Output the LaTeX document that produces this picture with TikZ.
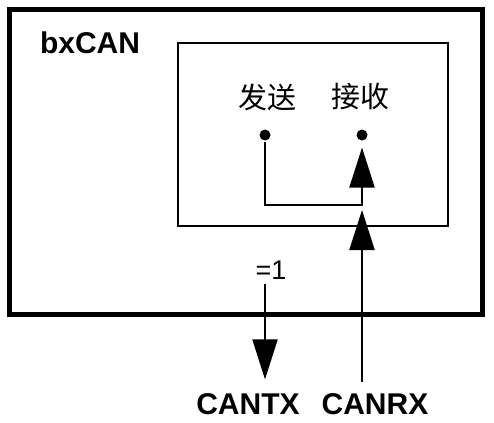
\documentclass[tikz,border=0pt]{standalone}
\usepackage{fontspec}
\setmainfont{Liberation Sans}
\newfontfamily\cjkfont{Noto Sans CJK SC}
\usetikzlibrary{positioning}
\usetikzlibrary{arrows.meta}

\tikzset{
  box/.style={draw,inner sep=0pt,outer sep=0pt,anchor=north west},
  pin/.style={circle,fill,inner sep=0pt,minimum size=11pt},
  cjk/.style={font=\cjkfont\fontsize{29}{29}\selectfont},
  pinname/.style={font=\bfseries\fontsize{30}{30}\selectfont,inner sep=0pt},
}

\begin{document}
\begin{tikzpicture}[x=1pt,y=-1pt,line width=2pt,
    >={Triangle[length=40pt,width=25pt]}]
  \useasboundingbox (0,0) rectangle (494,422);
  \node[box,line width=5pt,minimum width=473pt,minimum height=305pt] (can) at (9.5,9.5) {};
  \node[box,minimum width=270pt,minimum height=183pt] (mode) at (178,43) {};
  \node[font=\bfseries\fontsize{30}{30}\selectfont,anchor=west,inner sep=0pt] (title) at (39,43) {bxCAN};
  \node[cjk] (send) at (267,97) {发送};
  \node[cjk] (recv) at (360,97) {接收};
  \node[pin] (sdot) at (265,135) {};
  \node[pin] (rdot) at (362,135) {};
  \coordinate (loop) at (362,205);
  \node[font=\fontsize{27}{27}\selectfont] (eq) at (271,270) {=1};
  \node[pinname] (tx) at (248,404) {CANTX};
  \node[pinname] (rx) at (375,404) {CANRX};
  % internal loop back
  \draw[->,shorten >=6pt] (sdot) |- (loop) -- (rdot);
  % pins
  \draw[->,shorten >=13pt] (eq.south -| sdot) -- (tx.north -| sdot);
  \draw[->,shorten <=10pt,shorten >=5pt] (rx.north -| loop) -- (loop);
\end{tikzpicture}
\end{document}
